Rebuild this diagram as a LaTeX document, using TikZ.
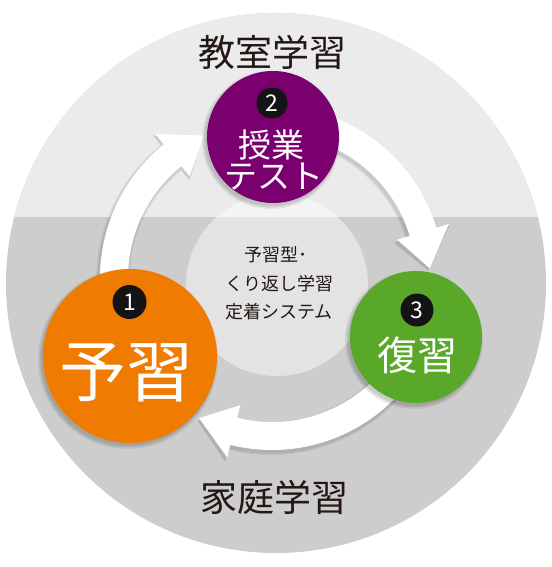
\documentclass[tikz,border=0pt]{standalone}
\usepackage{fontspec}
\setmainfont{Noto Sans CJK JP}
\definecolor{bgtop}{HTML}{EBEBEB}
\definecolor{bgbot}{HTML}{CDCDCD}
\definecolor{purp}{HTML}{7A0070}
\definecolor{oran}{HTML}{EF7B00}
\definecolor{gree}{HTML}{5AA829}
\definecolor{ink}{HTML}{231815}
\begin{document}
\begin{tikzpicture}[x=1pt,y=1pt,
  stage/.style={circle, minimum size=#1, inner sep=0pt},
  softshade/.style={fill=black, opacity=0.07},
  badge/.style={circle, fill=black!92, text=white, minimum size=#1, inner sep=0pt,
    font=\fontsize{23}{23}\selectfont},
  zone/.style={text=ink, inner sep=0pt, font=\fontsize{37}{37}\selectfont},
  mid/.style={text=ink, inner sep=0pt, font=\fontsize{18}{18}\selectfont},
  stagetext/.style={text=white, inner sep=0pt, font=\fontsize{#1}{#1}\selectfont},
  cyc/.style={fill=white}]
\useasboundingbox (0,0) rectangle (551,-567);
% background disc
\begin{scope}
  \clip (276,-283) circle (270);
  \fill[bgbot] (0,0) rectangle (551,-567);
  \fill[bgtop] (0,0) rectangle (551,-217);
\end{scope}
% central disc
\fill[white, opacity=0.45] (277,-285) circle (91);
% cycle arrows
\begin{scope}[shift={(272,-278)}]
  \foreach \s/\b in {205/129, 75/17, -20/-104}{
    \pgfmathsetmacro\t{\b-13.5}
    \foreach \e in {2.5,1.2}{
      \fill[softshade, shift={(-1.5,-2.5)}] (\s:172+\e) arc[start angle=\s, end angle=\b, radius=172+\e]
        -- (\b:185+\e) -- (\t:158) -- (\b:131-\e) -- (\b:144-\e)
        arc[start angle=\b, end angle=\s, radius=144-\e] -- cycle;
    }
    \fill[cyc] (\s:172) arc[start angle=\s, end angle=\b, radius=172]
      -- (\b:185) -- (\t:158) -- (\b:131) -- (\b:144)
      arc[start angle=\b, end angle=\s, radius=144] -- cycle;
  }
\end{scope}
% stage shadows
\foreach \p/\r in {{(130,-356)}/87, {(273,-137)}/66, {(416,-337)}/66}{
  \foreach \e in {3,1.5,0}{
    \fill[softshade, shift={(-2,-3)}] \p circle (\r+\e);
  }
}
% stages
\node[stage=174, fill=oran] (yoshu) at (130,-356) {};
\node[stage=132, fill=purp] (jugyo) at (273,-137) {};
\node[stage=132, fill=gree] (fukushu) at (416,-337) {};
% badges
\node[badge=34] (b1) at (129.5,-302) {1};
\node[badge=31] (b2) at (272,-103) {2};
\node[badge=33] (b3) at (417,-310) {3};
% stage texts
\node[stagetext=67] (t1) at (126,-373) {予習};
\node[stagetext=33] (t2a) at (271,-145) {授業};
\node[stagetext=33] (t2b) at (274,-177) {テスト};
\node[stagetext=40] (t3) at (417,-355) {復習};
% zone labels
\node[zone] (kyoshitsu) at (272,-52) {教室学習};
\node[zone] (katei) at (274,-497) {家庭学習};
% centre text
\node[mid] (c1) at (276,-255) {予習型･};
\node[mid] (c2) at (279,-284) {くり返し学習};
\node[mid] (c3) at (279,-312) {定着システム};
\end{tikzpicture}
\end{document}
